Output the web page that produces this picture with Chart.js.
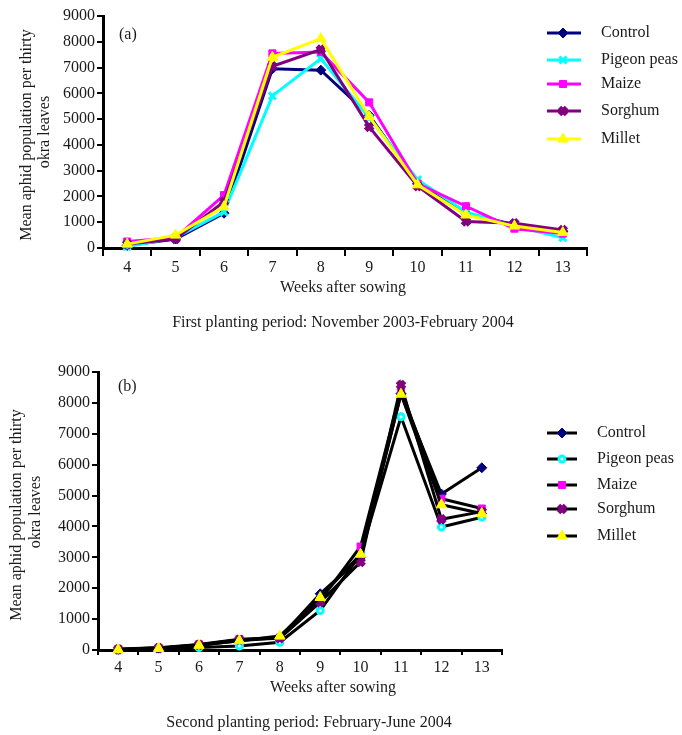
<!DOCTYPE html>
<html>
<head>
<meta charset="utf-8">
<script src="https://cdn.jsdelivr.net/npm/chart.js@4"></script>
<style>
  html, body { margin: 0; padding: 0; background: #fff; }
  body { width: 682px; height: 735px; position: relative; overflow: hidden; }
  canvas { position: absolute; left: 0; }
  #ca { top: 0; }
  #cb { top: 340px; }
</style>
</head>
<body>
<canvas id="ca" width="682" height="340"></canvas>
<canvas id="cb" width="682" height="395"></canvas>
<script>
// ---- Data ----
const weeks = ['4', '5', '6', '7', '8', '9', '10', '11', '12', '13'];
const seriesNames = ['Control', 'Pigeon peas', 'Maize', 'Sorghum', 'Millet'];
const yTicks = [0, 1000, 2000, 3000, 4000, 5000, 6000, 7000, 8000, 9000];

// First planting period (a)
const controlA = [100, 350, 1350, 6950, 6900, 5150, 2500, 1350, 900, 650];
const pigeonA  = [50, 400, 1400, 5900, 7350, 5050, 2650, 1400, 850, 400];
const maizeA   = [250, 400, 2050, 7550, 7600, 5650, 2500, 1620, 750, 560];
const sorghumA = [150, 350, 1800, 7050, 7700, 4700, 2400, 1030, 960, 700];
const milletA  = [150, 500, 1600, 7400, 8120, 5100, 2450, 1280, 850, 600];

// Second planting period (b)
const controlB = [20, 60, 150, 300, 400, 1820, 3000, 8300, 5050, 5900];
const pigeonB  = [10, 80, 80, 130, 250, 1280, 3100, 7550, 3980, 4300];
const maizeB   = [30, 70, 180, 350, 400, 1600, 3350, 8400, 4900, 4580];
const sorghumB = [20, 60, 170, 330, 380, 1550, 2850, 8580, 4230, 4480];
const milletB  = [10, 50, 150, 300, 450, 1700, 3100, 8280, 4700, 4420];

const FONT = "'Liberation Serif', 'Times New Roman', serif";
const FS = 16;
const TXT = '#1a1a1a';

const colors = ['#000080', '#00FFFF', '#FF00FF', '#800080', '#FFFF00'];

function drawMarker(ctx, style, x, y) {
  ctx.save();
  ctx.fillStyle = style.fill;
  ctx.strokeStyle = style.stroke;
  ctx.lineWidth = style.bw;
  if (Chart.helpers && Chart.helpers.drawPoint) {
    Chart.helpers.drawPoint(ctx, { pointStyle: style.ps, radius: style.r, borderWidth: style.bw, rotation: 0 }, x, y);
  }
  ctx.restore();
}

const decor = {
  id: 'decor',
  afterDraw(chart, args, opts) {
    const ctx = chart.ctx;
    ctx.save();
    ctx.fillStyle = TXT;
    (opts.texts || []).forEach(t => {
      ctx.save();
      ctx.font = (t.size || FS) + 'px ' + FONT;
      ctx.textAlign = t.align || 'center';
      ctx.textBaseline = 'middle';
      ctx.translate(t.x, t.y);
      if (t.rot) ctx.rotate(t.rot);
      ctx.fillText(t.text, 0, 0);
      ctx.restore();
    });
    const lg = opts.legend;
    if (lg) {
      chart.data.datasets.forEach((ds, i) => {
        const y = lg.rows[i];
        ctx.save();
        ctx.strokeStyle = ds.borderColor;
        ctx.lineWidth = ds.borderWidth;
        ctx.beginPath();
        ctx.moveTo(lg.x1, y);
        ctx.lineTo(lg.x2, y);
        ctx.stroke();
        ctx.restore();
        drawMarker(ctx, { ps: ds.pointStyle, r: ds.pointRadius, bw: ds.pointBorderWidth,
                          fill: ds.pointBackgroundColor, stroke: ds.pointBorderColor }, lg.mx, y);
        ctx.save();
        ctx.fillStyle = TXT;
        ctx.font = FS + 'px ' + FONT;
        ctx.textAlign = 'left';
        ctx.textBaseline = 'middle';
        ctx.fillText(seriesNames[i], lg.tx, y);
        ctx.restore();
      });
    }
    ctx.restore();
  }
};

function makeDatasetsA() {
  const vals = [controlA, pigeonA, maizeA, sorghumA, milletA];
  const styles = [
    { ps: 'rectRot', r: 5, bw: 1 },
    { ps: 'crossRot', r: 5, bw: 3 },
    { ps: 'rect', r: 5, bw: 1 },
    { ps: 'crossRot', r: 5, bw: 5 },
    { ps: 'triangle', r: 6, bw: 1 }
  ];
  return vals.map((v, i) => ({
    label: seriesNames[i],
    data: v,
    borderColor: colors[i],
    borderWidth: 3,
    pointStyle: styles[i].ps,
    pointRadius: styles[i].r,
    pointBorderWidth: styles[i].bw,
    pointBackgroundColor: colors[i],
    pointBorderColor: colors[i],
    tension: 0,
    order: 5 - i,
    clip: false
  }));
}

function makeDatasetsB() {
  const vals = [controlB, pigeonB, maizeB, sorghumB, milletB];
  const styles = [
    { ps: 'rectRot', r: 5, bw: 1, fill: colors[0], stroke: colors[0] },
    { ps: 'circle', r: 3, bw: 3, fill: '#ffffff', stroke: colors[1] },
    { ps: 'rect', r: 5, bw: 1, fill: colors[2], stroke: colors[2] },
    { ps: 'crossRot', r: 5, bw: 5, fill: colors[3], stroke: colors[3] },
    { ps: 'triangle', r: 6, bw: 1, fill: colors[4], stroke: colors[4] }
  ];
  return vals.map((v, i) => ({
    label: seriesNames[i],
    data: v,
    borderColor: '#000000',
    borderWidth: 3,
    pointStyle: styles[i].ps,
    pointRadius: styles[i].r,
    pointBorderWidth: styles[i].bw,
    pointBackgroundColor: styles[i].fill,
    pointBorderColor: styles[i].stroke,
    tension: 0,
    order: 5 - i,
    clip: false
  }));
}

function makeOptions(cfg) {
  return {
    responsive: false,
    animation: false,
    devicePixelRatio: 1,
    layout: { padding: { left: 0, right: cfg.padRight, top: cfg.padTop, bottom: 0 } },
    plugins: {
      legend: { display: false },
      tooltip: { enabled: false },
      decor: cfg.decor
    },
    scales: {
      x: {
        type: 'category',
        offset: true,
        afterFit(s) { s.height = cfg.xHeight; },
        grid: { offset: true, drawOnChartArea: false, tickLength: cfg.xTick, color: '#000', lineWidth: 2 },
        border: { display: true, color: '#000', width: 3 },
        ticks: { color: TXT, font: { family: FONT, size: FS }, padding: cfg.xPad, maxRotation: 0, autoSkip: false }
      },
      y: {
        min: 0,
        max: 9000,
        afterFit(s) { s.width = cfg.yWidth; },
        afterBuildTicks(s) { s.ticks = yTicks.map(v => ({ value: v })); },
        grid: { drawOnChartArea: false, tickLength: 6, color: '#000', lineWidth: 2 },
        border: { display: true, color: '#000', width: 3 },
        ticks: { color: TXT, font: { family: FONT, size: FS }, padding: 2, callback: v => String(v) }
      }
    }
  };
}

new Chart(document.getElementById('ca'), {
  type: 'line',
  data: { labels: weeks, datasets: makeDatasetsA() },
  options: makeOptions({
    padRight: 95, padTop: 16, xHeight: 92, yWidth: 103, xTick: 8, xPad: 2,
    decor: {
      texts: [
        { text: '(a)', x: 119, y: 35, align: 'left' },
        { text: 'Mean aphid population per thirty', x: 27, y: 135, rot: -Math.PI / 2 },
        { text: 'okra leaves', x: 45, y: 132, rot: -Math.PI / 2 },
        { text: 'Weeks after sowing', x: 343, y: 288 },
        { text: 'First planting period: November 2003-February 2004', x: 343, y: 323 }
      ],
      legend: { x1: 547, x2: 581, mx: 563, tx: 601, rows: [33, 60, 84, 111, 139] }
    }
  }),
  plugins: [decor]
});

new Chart(document.getElementById('cb'), {
  type: 'line',
  data: { labels: weeks, datasets: makeDatasetsB() },
  options: makeOptions({
    padRight: 180, padTop: 32, xHeight: 85, yWidth: 98, xTick: 5, xPad: 3,
    decor: {
      texts: [
        { text: '(b)', x: 118, y: 47, align: 'left' },
        { text: 'Mean aphid population per thirty', x: 17, y: 175, rot: -Math.PI / 2 },
        { text: 'okra leaves', x: 36, y: 172, rot: -Math.PI / 2 },
        { text: 'Weeks after sowing', x: 333, y: 348 },
        { text: 'Second planting period: February-June 2004', x: 309, y: 383 }
      ],
      legend: { x1: 547, x2: 577, mx: 562, tx: 597, rows: [93, 119, 145, 169, 196] }
    }
  }),
  plugins: [decor]
});
</script>
</body>
</html>
